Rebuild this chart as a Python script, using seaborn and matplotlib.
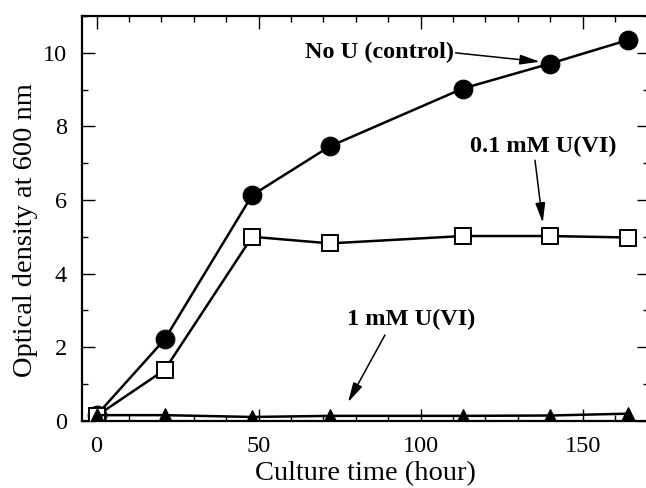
import numpy as np
import pandas as pd
import matplotlib
matplotlib.use("Agg")
import matplotlib.pyplot as plt
from matplotlib.ticker import MultipleLocator
import seaborn as sns

# data
time_h = [0, 21, 48, 72, 113, 140, 164]
od_control = [0.15, 2.21, 6.13, 7.46, 9.03, 9.71, 10.35]
od_01mM = [0.13, 1.38, 5.00, 4.82, 5.02, 5.02, 4.98]
od_1mM = [0.15, 0.15, 0.10, 0.13, 0.13, 0.14, 0.19]

sns.set_theme(style="ticks")
plt.rcParams["font.family"] = ["Liberation Serif", "DejaVu Serif"]
plt.rcParams["text.color"] = "black"
plt.rcParams["axes.labelcolor"] = "black"

fig = plt.figure(figsize=(6.46, 4.88), dpi=100)
ax = fig.add_axes([0.127, 0.138, 0.8777, 0.829])

common = dict(color="black", linewidth=1.8, ax=ax, legend=False)
sns.lineplot(x=time_h, y=od_control, marker="o", markersize=13.5,
             markerfacecolor="black", markeredgecolor="black", zorder=3, **common)
sns.lineplot(x=time_h, y=od_01mM, marker="s", markersize=11,
             markerfacecolor="white", markeredgecolor="black",
             markeredgewidth=1.4, zorder=4, **common)
sns.lineplot(x=time_h, y=od_1mM, marker="^", markersize=10,
             markerfacecolor="black", markeredgecolor="black", zorder=5, **common)

ax.set_xlim(-4.5, 170.5)
ax.set_ylim(0, 11)
ax.xaxis.set_major_locator(MultipleLocator(50))
ax.xaxis.set_minor_locator(MultipleLocator(10))
ax.yaxis.set_major_locator(MultipleLocator(2))
ax.yaxis.set_minor_locator(MultipleLocator(1))
ax.tick_params(which="both", direction="in", top=True, right=True,
               width=1, colors="black", labelsize=17.5)
ax.tick_params(which="major", length=9, pad=11)
ax.tick_params(which="minor", length=4.5)
for sp in ax.spines.values():
    sp.set_linewidth(1.6)
    sp.set_color("black")

ax.set_xlabel("Culture time (hour)", fontsize=20.5, labelpad=3)
ax.set_ylabel("Optical density at 600 nm", fontsize=20.5)
ax.yaxis.set_label_coords(-0.077, 0.472)

# annotations
bold = dict(fontsize=17.5, fontweight="bold", color="black")
ax.text(110.3, 10.02, "No U (control)", ha="right", va="center", **bold)
ax.text(137.7, 7.45, "0.1 mM U(VI)", ha="center", va="center", **bold)
ax.text(97.2, 2.74, "1 mM U(VI)", ha="center", va="center", **bold)

arrow = dict(arrowstyle="-|>,head_length=1.0,head_width=0.25", color="black",
             linewidth=1.1, shrinkA=0, shrinkB=0)
ax.annotate("", xy=(136.8, 9.76), xytext=(110.8, 10.0), arrowprops=arrow)
ax.annotate("", xy=(137.7, 5.38), xytext=(135.3, 7.08), arrowprops=arrow)
ax.annotate("", xy=(77.6, 0.5), xytext=(89, 2.33), arrowprops=arrow)

fig.savefig("out.png", dpi=100)
